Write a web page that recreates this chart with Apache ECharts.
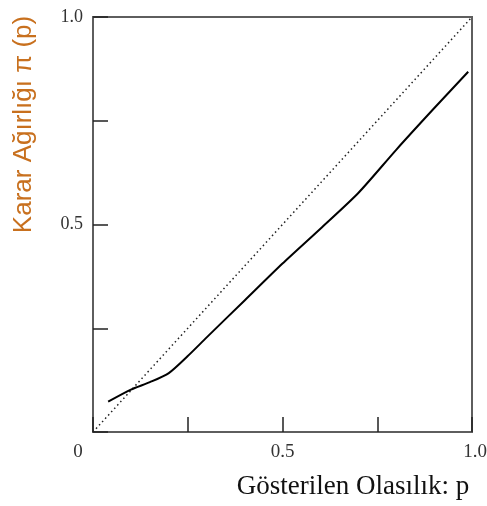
<!DOCTYPE html>
<html>
<head>
<meta charset="utf-8">
<script src="https://cdn.jsdelivr.net/npm/echarts@6/dist/echarts.min.js"></script>
<style>html,body{margin:0;padding:0;background:#fff;overflow:hidden}#c{width:487px;height:506px}</style>
</head>
<body>
<div id="c"></div>
<script>
const pValues = [0.04, 0.1, 0.15, 0.2, 0.25, 0.3, 0.4, 0.5, 0.6, 0.7, 0.8, 0.9, 0.99];
const weightValues = [0.073, 0.102, 0.12, 0.142, 0.183, 0.228, 0.317, 0.406, 0.49, 0.576, 0.68, 0.78, 0.868];
const diagonalP = [0, 1];
const diagonalW = [0, 1];
const xTickLabels = {0: '0', 0.5: '0.5', 1: '1.0'};
const yTickLabels = {0.5: '0.5', 1: '1.0'};
const xName = 'Gösterilen Olasılık: p';
const yName = 'Karar Ağırlığı π (p)';

const chart = echarts.init(document.getElementById('c'), null, {width: 487, height: 506});
const serif = 'Liberation Serif';
chart.setOption({
  animation: false,
  grid: {left: 93, right: 15, top: 17, bottom: 74, show: true, borderColor: '#5e5e5e', borderWidth: 2,
         containLabel: false, outerBoundsMode: 'none'},
  xAxis: {
    type: 'value', min: 0, max: 1, interval: 0.25,
    axisLine: {show: true, lineStyle: {color: '#5e5e5e', width: 2}},
    axisTick: {show: true, inside: true, length: 15, lineStyle: {color: '#222', width: 1.5}},
    splitLine: {show: false},
    axisLabel: {
      margin: 11, fontFamily: serif, fontSize: 19, color: '#333',
      formatter: v => {
        const t = xTickLabels[v];
        if (t === undefined) return '';
        if (v === 0) return '{z|' + t + '}';
        if (v === 1) return '{e|' + t + '}';
        return t;
      },
      rich: {
        z: {fontFamily: serif, fontSize: 19, color: '#333', padding: [0, 30, 0, 0]},
        e: {fontFamily: serif, fontSize: 19, color: '#333', padding: [0, 0, 0, 6]}
      }
    },
    name: xName, nameLocation: 'middle', nameGap: 41,
    nameTextStyle: {fontFamily: serif, fontSize: 27, color: '#111', padding: [0, 0, 0, 141]}
  },
  yAxis: {
    type: 'value', min: 0, max: 1, interval: 0.25,
    axisLine: {show: true, lineStyle: {color: '#5e5e5e', width: 2}},
    axisTick: {show: true, inside: true, length: 15, lineStyle: {color: '#222', width: 1.5}},
    splitLine: {show: false},
    axisLabel: {
      margin: 10, fontFamily: serif, fontSize: 18, color: '#333',
      formatter: v => yTickLabels[v] === undefined ? '' : yTickLabels[v]
    },
    name: yName, nameLocation: 'middle', nameGap: 56, nameRotate: 90,
    nameTextStyle: {fontFamily: 'Liberation Sans', fontSize: 26, color: '#c8701e', padding: [0, 0, 0, 200]}
  },
  series: [
    {
      type: 'line', data: diagonalP.map((p, i) => [p, diagonalW[i]]), showSymbol: false,
      lineStyle: {color: '#222', width: 1.5, type: [1.5, 3]}
    },
    {
      type: 'line', data: pValues.map((p, i) => [p, weightValues[i]]), showSymbol: false, smooth: 0.25,
      lineStyle: {color: '#000', width: 2}
    }
  ]
});
</script>
</body>
</html>
